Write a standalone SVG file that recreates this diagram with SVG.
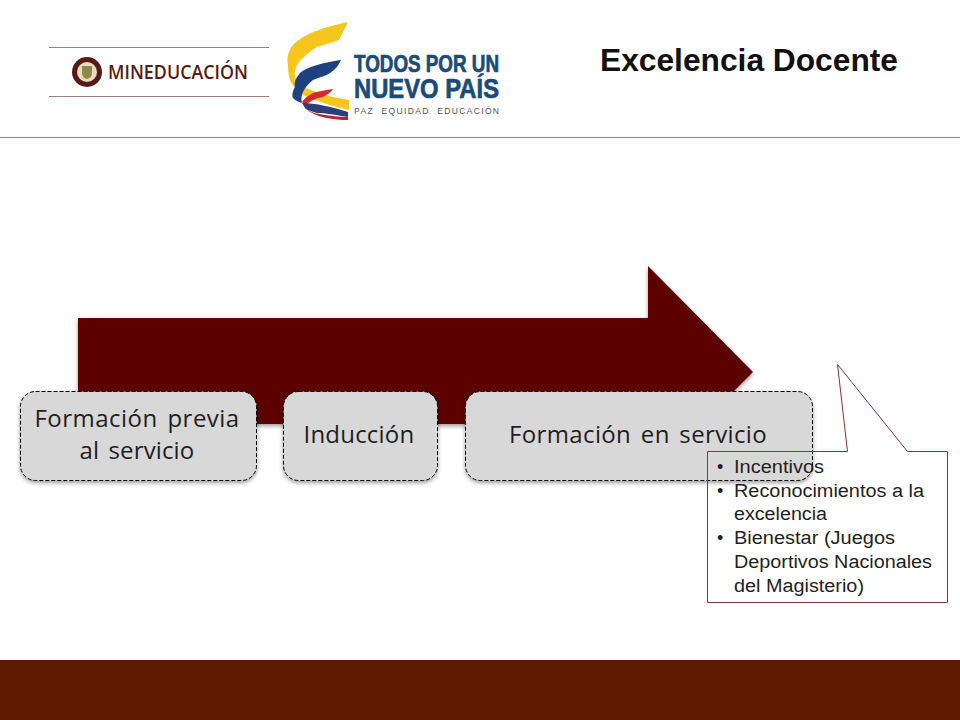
<svg xmlns="http://www.w3.org/2000/svg" width="960" height="720" viewBox="0 0 960 720">
<defs>
<filter id="sh" x="-5%" y="-10%" width="110%" height="125%"><feDropShadow dx="0" dy="2" stdDeviation="2" flood-color="#000" flood-opacity="0.4"/></filter>
</defs>
<style>
.step{fill:#d8d8d8;stroke:#000;stroke-width:1;stroke-dasharray:4 2;filter:url(#sh)}
.lbl{font-family:"Open Sans","Noto Sans",sans-serif;font-size:24px;fill:#1f1f1f;text-anchor:middle;letter-spacing:.3px;word-spacing:3px}
.call{font-family:"Liberation Sans",Arial,sans-serif;font-size:18px;fill:#1f1f1f}
.rule{stroke:#a87a78;stroke-width:1}
.logo{font-family:"Liberation Sans",Arial,sans-serif;font-weight:700;fill:#1b4b7b;stroke:#1b4b7b;stroke-width:.7}
</style>
<rect width="960" height="720" fill="#fff"/>
<g id="header">
<line class="rule" x1="0" y1="137.500" x2="960" y2="137.500"/>
<text x="749" y="71" font-family="Liberation Sans,Arial,sans-serif" font-size="30.500" font-weight="700" fill="#111" text-anchor="middle" textLength="298" lengthAdjust="spacingAndGlyphs">Excelencia Docente</text>
</g>
<g id="logo-mineducacion">
<line class="rule" x1="49" y1="47.500" x2="269" y2="47.500"/>
<line class="rule" x1="49" y1="96.500" x2="269" y2="96.500"/>
<circle cx="87" cy="72" r="15" fill="#5a1a14"/>
<circle cx="87" cy="72" r="10" fill="#e8dcc0"/>
<path d="M82 66h10v7q0 5-5 6q-5-1-5-6z" fill="#8f8a4a"/>
<text x="108" y="79" font-family="Open Sans,Noto Sans,sans-serif" font-size="19" font-weight="600" fill="#5a1a14" textLength="140" lengthAdjust="spacingAndGlyphs">MINEDUCACIÓN</text>
</g>
<g id="logo-todos">
<path d="M348 22C330 26 305 32 293 45C287 52 287 60 288 65C288 75 290 82 293 85C297 92 303 95 310 98C322 103 335 107 349 110L349 100C330 97 315 92 303 87C297 82 294 77 295 72C296 66 298 62 303 58C308 53 312 50 317 47C326 44 334 42 339 40Z" fill="#f7c61e"/>
<path d="M341 60C332 61 324 63 317 65C308 68 303 70 300 73C295 79 294 83 295 87C292 92 292 96 293 98C296 101 299 102 302 103C300 96 303 88 313 80C320 77 326 76 330 73C335 70 338 66 341 60Z" fill="#20417f"/>
<path d="M333 89C326 90 319 91 313 93C307 96 304 99 302 102L305 106C311 100 317 98 323 97C327 95 330 93 333 89Z" fill="#d42a2c"/>
<path d="M302 103C315 103 333 107 348 112V117C335 115 325 113 317 113C311 111 306 110 305 108Z" fill="#2d3e7d"/>
<path d="M305 108C310 112 317 114 325 115C333 116 341 117 348 117V120C335 120 315 118 305 108Z" fill="#b5252f"/>
<text class="logo" x="354" y="72" font-size="23" textLength="145" lengthAdjust="spacingAndGlyphs">TODOS POR UN</text>
<text class="logo" x="354" y="98" font-size="28" textLength="145" lengthAdjust="spacingAndGlyphs">NUEVO PAÍS</text>
<text x="354" y="114" font-family="Liberation Sans,Arial,sans-serif" font-size="8.500" fill="#555" textLength="145" xml:space="preserve">PAZ  EQUIDAD  EDUCACIÓN</text>
</g>
<g id="arrow">
<path d="M78 318H648V266L753 372L648 477V424H78Z" fill="#5c0000" filter="url(#sh)"/>
</g>
<g id="step-formacion-previa">
<rect class="step" x="20.500" y="391.500" width="236" height="89" rx="15"/>
<text class="lbl" x="137" y="427" textLength="205">Formación previa</text>
<text class="lbl" x="137" y="459" textLength="115">al servicio</text>
</g>
<g id="step-induccion">
<rect class="step" x="283.500" y="391.500" width="154" height="89" rx="15"/>
<text class="lbl" x="359" y="443" textLength="111">Inducción</text>
</g>
<g id="step-formacion-servicio">
<rect class="step" x="465.500" y="391.500" width="347" height="89" rx="15"/>
<text class="lbl" x="638" y="443" textLength="258">Formación en servicio</text>
</g>
<g id="callout">
<path d="M707.500 451.500H847.500L837.500 364.500L907.500 451.500H947.500V602.500H707.500Z" fill="none" stroke="#8f2f3a" stroke-width="1"/>
<g class="call">
<text x="717" y="473">•</text><text x="734" y="473" textLength="90" lengthAdjust="spacingAndGlyphs">Incentivos</text>
<text x="717" y="497">•</text><text x="734" y="497" textLength="190" lengthAdjust="spacingAndGlyphs">Reconocimientos a la</text>
<text x="734" y="520" textLength="93" lengthAdjust="spacingAndGlyphs">excelencia</text>
<text x="717" y="544">•</text><text x="734" y="544" textLength="161" lengthAdjust="spacingAndGlyphs">Bienestar (Juegos</text>
<text x="734" y="568" textLength="198" lengthAdjust="spacingAndGlyphs">Deportivos Nacionales</text>
<text x="734" y="592" textLength="130" lengthAdjust="spacingAndGlyphs">del Magisterio)</text>
</g>
</g>
<g id="footer">
<rect x="0" y="660" width="960" height="60" fill="#5e1a00"/>
</g>
</svg>
